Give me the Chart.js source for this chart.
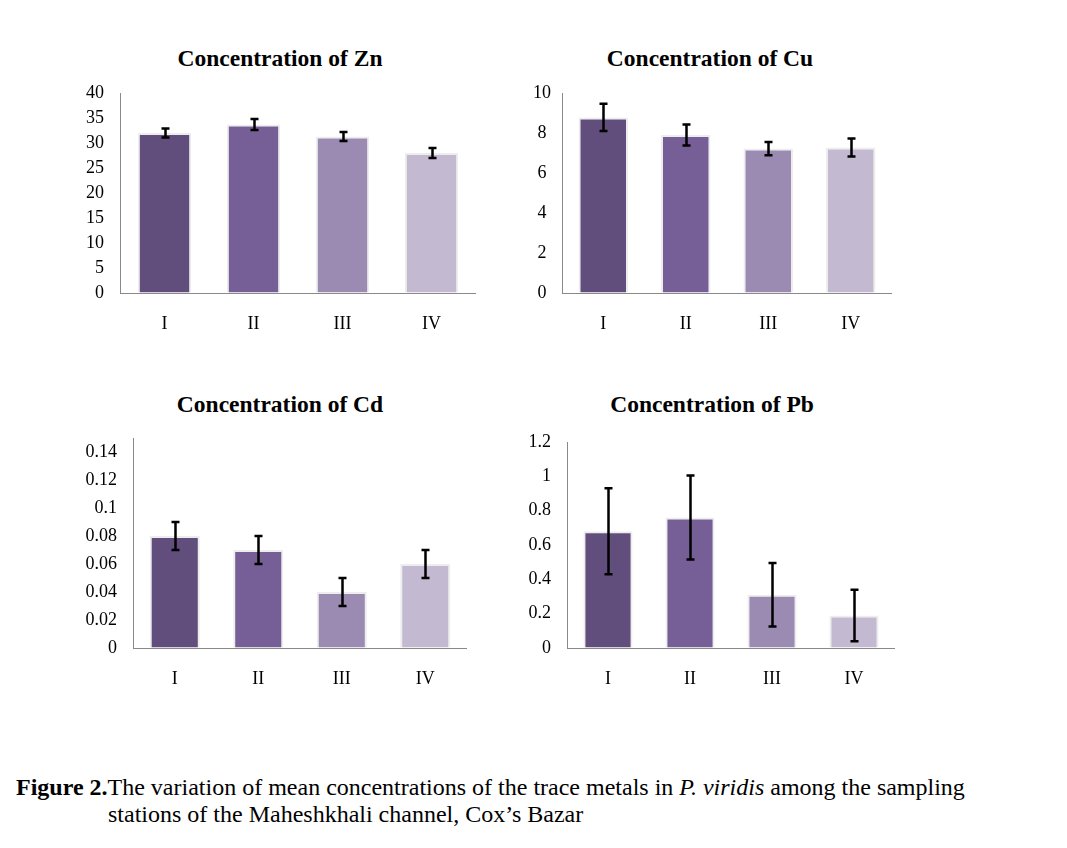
<!DOCTYPE html>
<html>
<head>
<meta charset="utf-8">
<script src="https://cdn.jsdelivr.net/npm/chart.js@4/dist/chart.umd.min.js"></script>
<style>
  html, body { margin: 0; padding: 0; background: #fff; }
  body { width: 1067px; height: 848px; position: relative; overflow: hidden; font-family: "Liberation Serif", "Times New Roman", serif; }
  canvas { position: absolute; }
  .ttl { position: absolute; font: bold 23.5px "Liberation Serif", serif; color: #000; transform: translateX(-50%); white-space: nowrap; line-height: 26px; }
  .cap { position: absolute; font: 24px "Liberation Serif", serif; color: #000; white-space: nowrap; line-height: 27px; }
</style>
</head>
<body>
<div class="ttl" style="left:280px; top:45px;">Concentration of Zn</div>
<div class="ttl" style="left:710px; top:45px;">Concentration of Cu</div>
<div class="ttl" style="left:280px; top:391px;">Concentration of Cd</div>
<div class="ttl" style="left:712px; top:391px;">Concentration of Pb</div>

<canvas id="zn" width="406" height="263" style="left:70px; top:80px;"></canvas>
<canvas id="cu" width="377" height="263" style="left:515px; top:80px;"></canvas>
<canvas id="cd" width="387" height="273" style="left:80px; top:425px;"></canvas>
<canvas id="pb" width="380" height="273" style="left:515px; top:425px;"></canvas>

<div class="cap" style="left:16px; top:774px;"><b>Figure 2.</b>The variation of mean concentrations of the trace metals in <i>P. viridis</i> among the sampling</div>
<div class="cap" style="left:108px; top:801px;">stations of the Maheshkhali channel, Cox’s Bazar</div>

<script>
// ---- data ----
const stations = ['I', 'II', 'III', 'IV'];
const barColors = ['#624e7c', '#765f96', '#9b8ab2', '#c3b9d1'];

const znMean = [32.0, 33.7, 31.3, 28.0];
const znErr  = [0.9, 1.1, 0.9, 1.0];

const cuMean = [8.78, 7.9, 7.22, 7.28];
const cuErr  = [0.68, 0.53, 0.33, 0.45];

const cdMean = [0.08, 0.07, 0.04, 0.06];
const cdErr  = [0.01, 0.01, 0.01, 0.01];

const pbMean = [0.68, 0.76, 0.31, 0.19];
const pbErr  = [0.25, 0.245, 0.185, 0.15];

// ---- error bar plugin (uses the chart's own scales) ----
const errorBars = {
  id: 'errorBars',
  afterDatasetsDraw(chart) {
    const ctx = chart.ctx;
    const yScale = chart.scales.y;
    chart.data.datasets.forEach((ds, di) => {
      if (!ds.errors) return;
      const meta = chart.getDatasetMeta(di);
      meta.data.forEach((bar, i) => {
        const v = ds.data[i], e = ds.errors[i];
        const yTop = yScale.getPixelForValue(v + e);
        const yBot = yScale.getPixelForValue(v - e);
        const x = Math.round(bar.x) + 0.5;
        ctx.save();
        ctx.strokeStyle = '#000';
        ctx.lineWidth = 2.5;
        ctx.lineCap = 'butt';
        ctx.beginPath();
        ctx.moveTo(x, yTop); ctx.lineTo(x, yBot);
        ctx.moveTo(x - 4, yTop); ctx.lineTo(x + 4, yTop);
        ctx.moveTo(x - 4, yBot); ctx.lineTo(x + 4, yBot);
        ctx.stroke();
        ctx.restore();
      });
    });
  }
};

function fmt(v) { return String(+Number(v).toFixed(4)); }

function makeChart(id, means, errs, opts) {
  const el = document.getElementById(id);
  return new Chart(el, {
    type: 'bar',
    data: {
      labels: stations,
      datasets: [{
        data: means,
        errors: errs,
        backgroundColor: barColors,
        borderColor: '#ededed',
        borderWidth: 2,
        borderSkipped: 'bottom',
        categoryPercentage: 1,
        barPercentage: 0.6
      }]
    },
    options: {
      responsive: false,
      animation: false,
      devicePixelRatio: 1,
      layout: { padding: { top: opts.padTop, left: 0, right: 0, bottom: 0 } },
      plugins: { legend: { display: false }, tooltip: { enabled: false }, title: { display: false } },
      scales: {
        x: {
          grid: { drawOnChartArea: false, drawTicks: false },
          border: { color: '#898989', width: 1 },
          ticks: { color: '#000', font: { family: 'Liberation Serif', size: 18 }, padding: 20, maxRotation: 0 },
          afterFit: s => { s.height = 50; s.paddingLeft = 0; s.paddingRight = 0; }
        },
        y: {
          min: 0,
          max: opts.max,
          grid: { drawOnChartArea: false, drawTicks: false },
          border: { color: '#898989', width: 1 },
          ticks: {
            stepSize: opts.step,
            includeBounds: false,
            autoSkip: false,
            maxTicksLimit: 30,
            color: '#000',
            font: { family: 'Liberation Serif', size: 18 },
            padding: opts.tickPad,
            crossAlign: opts.crossAlign || 'near',
            callback: v => fmt(v)
          },
          afterFit: s => { s.width = opts.yWidth; s.paddingTop = 0; s.paddingBottom = 0; }
        }
      }
    },
    plugins: [errorBars]
  });
}

makeChart('zn', znMean, znErr, { max: 40, step: 5, yWidth: 50, padTop: 13, tickPad: 16 });
makeChart('cu', cuMean, cuErr, { max: 10, step: 2, yWidth: 47, padTop: 13, tickPad: 11, crossAlign: 'center' });
makeChart('cd', cdMean, cdErr, { max: 0.15, step: 0.02, yWidth: 53, padTop: 13, tickPad: 16 });
makeChart('pb', pbMean, pbErr, { max: 1.2, step: 0.2, yWidth: 52, padTop: 17, tickPad: 16 });
</script>
</body>
</html>
